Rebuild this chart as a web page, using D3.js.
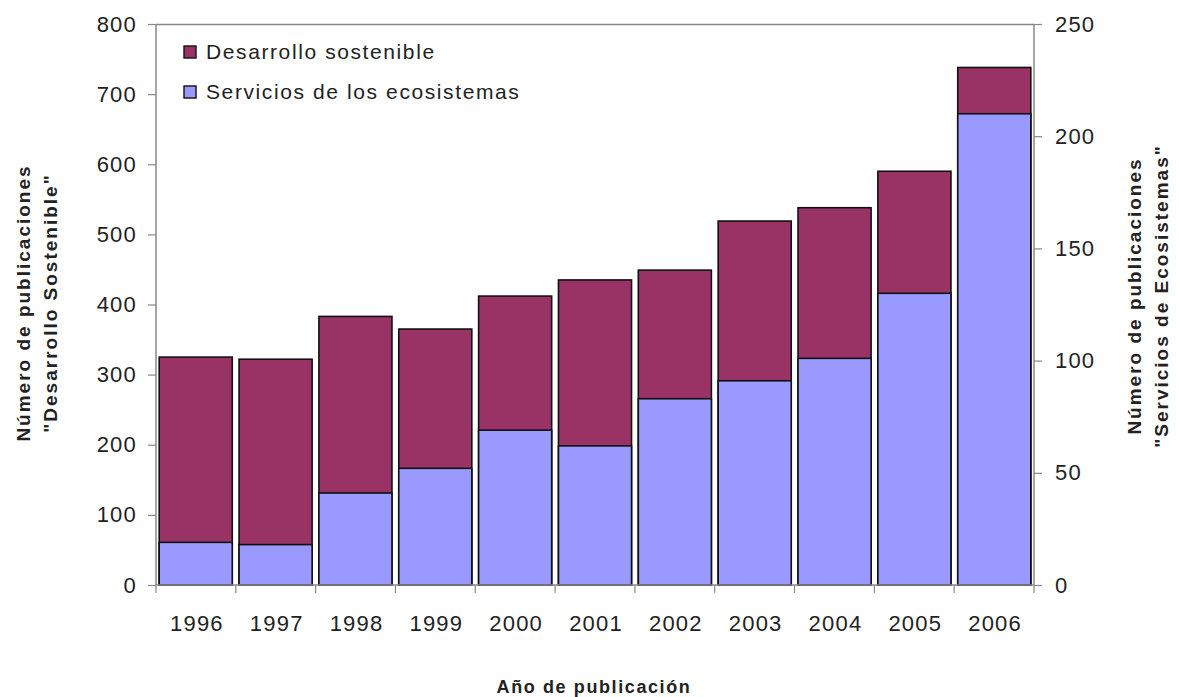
<!DOCTYPE html>
<html>
<head>
<meta charset="utf-8">
<script src="https://cdn.jsdelivr.net/npm/d3@7"></script>
<style>
  html, body { margin: 0; padding: 0; background: #fff; }
  svg { display: block; }
  text { font-family: Arial, "Liberation Sans", sans-serif; fill: #222; }
</style>
</head>
<body>
<svg id="chart" width="1179" height="697"></svg>
<script>
// Publications per year
const years = ["1996","1997","1998","1999","2000","2001","2002","2003","2004","2005","2006"];
const desarrollo = [325, 322, 383, 365, 412, 435, 449, 519, 538, 590, 738];   // left axis
const servicios  = [19, 18, 41, 52, 69, 62, 83, 91, 101, 130, 210];          // right axis
const leftTicks  = [0, 100, 200, 300, 400, 500, 600, 700, 800];
const rightTicks = [0, 50, 100, 150, 200, 250];
const seriesNames = ["Desarrollo sostenible", "Servicios de los ecosistemas"];
const seriesColors = ["#993366", "#9999ff"];

const svg = d3.select("#chart");
const m = { left: 156, right: 1034, top: 24, bottom: 585 };
const font = "Arial, 'Liberation Sans', sans-serif";

const x = d3.scaleBand().domain(years).range([m.left, m.right]).paddingInner(0.085).paddingOuter(0.04);
const xBand = d3.scaleBand().domain(years).range([m.left, m.right]);
const yL = d3.scaleLinear().domain([0, 800]).range([m.bottom, m.top]);
const yR = d3.scaleLinear().domain([0, 250]).range([m.bottom, m.top]);

const axisColor = "#888";

// plot frame top line
svg.append("line")
  .attr("x1", m.left).attr("x2", m.right)
  .attr("y1", m.top + 0.5).attr("y2", m.top + 0.5)
  .attr("stroke", axisColor).attr("stroke-width", 1.5);

// bars: Desarrollo (left scale) behind, Servicios (right scale) in front
const g = svg.append("g");
g.selectAll("rect.des").data(years).join("rect")
  .attr("class", "des")
  .attr("x", d => x(d))
  .attr("width", x.bandwidth())
  .attr("y", (d, i) => yL(desarrollo[i]))
  .attr("height", (d, i) => m.bottom - yL(desarrollo[i]))
  .attr("fill", seriesColors[0])
  .attr("stroke", "#111").attr("stroke-width", 1.6);

g.selectAll("rect.ser").data(years).join("rect")
  .attr("class", "ser")
  .attr("x", d => x(d))
  .attr("width", x.bandwidth())
  .attr("y", (d, i) => yR(servicios[i]))
  .attr("height", (d, i) => m.bottom - yR(servicios[i]))
  .attr("fill", seriesColors[1])
  .attr("stroke", "#111").attr("stroke-width", 1.6);

// left axis
const axL = svg.append("g").attr("transform", `translate(${m.left},0)`)
  .call(d3.axisLeft(yL).tickValues(leftTicks).tickSize(8).tickPadding(11).tickFormat(d3.format("d")));
// right axis
const axR = svg.append("g").attr("transform", `translate(${m.right},0)`)
  .call(d3.axisRight(yR).tickValues(rightTicks).tickSize(8).tickPadding(13).tickFormat(d3.format("d")));
// bottom axis: ticks at category boundaries
const axB = svg.append("g").attr("transform", `translate(0,${m.bottom})`)
  .call(d3.axisBottom(xBand).tickSize(0).tickPadding(30));
axB.selectAll(".boundary").data(years.concat(["end"])).join("line")
  .attr("class", "boundary")
  .attr("x1", (d, i) => i < years.length ? xBand(d) : m.right)
  .attr("x2", (d, i) => i < years.length ? xBand(d) : m.right)
  .attr("y1", 0).attr("y2", 8)
  .attr("stroke", axisColor).attr("stroke-width", 1.2);

[axL, axR, axB].forEach(a => {
  a.selectAll(".domain").attr("stroke", axisColor).attr("stroke-width", 1.5);
  a.selectAll(".tick line").attr("stroke", axisColor).attr("stroke-width", 1.2);
  a.selectAll(".tick text").attr("font-size", 22).attr("fill", "#222")
    .style("letter-spacing", "1.2px")
    .style("font-family", font);
});
axB.selectAll(".tick text").attr("dx", "1px");
axL.select(".domain").attr("d", `M0,${m.top}V${m.bottom}`);
axR.select(".domain").attr("d", `M0,${m.top}V${m.bottom}`);
axB.select(".domain").attr("d", `M${m.left},0H${m.right}`);

// legend
const leg = svg.append("g");
seriesNames.forEach((name, i) => {
  const yy = 52 + i * 40;
  leg.append("rect").attr("x", 184).attr("y", yy - 6).attr("width", 12).attr("height", 12)
    .attr("fill", seriesColors[i]).attr("stroke", "#111").attr("stroke-width", 1.4);
  leg.append("text").attr("x", 206).attr("y", yy).attr("dy", "0.35em")
    .attr("font-size", 21).style("letter-spacing", "1.6px").text(name);
});

// axis titles
svg.append("text").attr("x", 594).attr("y", 693).attr("text-anchor", "middle")
  .attr("font-size", 18).attr("font-weight", "bold").style("letter-spacing", "1.6px")
  .text("Año de publicación");

const lt = svg.append("text").attr("transform", "translate(37,303) rotate(-90)")
  .attr("text-anchor", "middle").attr("font-size", 19).attr("font-weight", "bold")
  .style("letter-spacing", "2px");
lt.append("tspan").attr("x", 0).attr("dy", "-0.35em").text("Número de publicaciones");
lt.append("tspan").attr("x", 0).attr("dy", "1.4em").text("\"Desarrollo Sostenible\"");

const rt = svg.append("text").attr("transform", "translate(1148,296) rotate(-90)")
  .attr("text-anchor", "middle").attr("font-size", 19).attr("font-weight", "bold")
  .style("letter-spacing", "2px");
rt.append("tspan").attr("x", 0).attr("dy", "-0.35em").text("Número de publicaciones");
rt.append("tspan").attr("x", 0).attr("dy", "1.4em").text("\"Servicios de Ecosistemas\"");
</script>
</body>
</html>
